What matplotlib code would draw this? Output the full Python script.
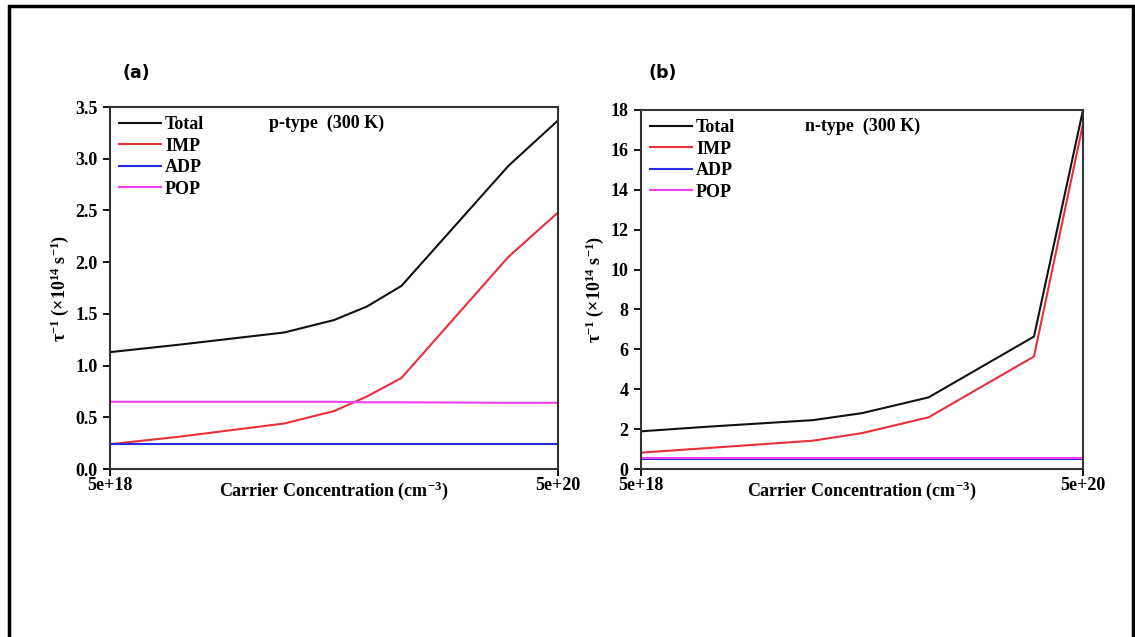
import matplotlib
matplotlib.use("Agg")
import matplotlib.pyplot as plt
from matplotlib.patches import Rectangle

# ---- data ----
conc_p = [5e18, 1e19, 3e19, 5e19, 7e19, 1e20, 3e20, 5e20]
total_p = [1.13, 1.20, 1.32, 1.44, 1.57, 1.77, 2.93, 3.37]
imp_p = [0.24, 0.31, 0.44, 0.56, 0.70, 0.88, 2.05, 2.48]
adp_p = [0.24, 0.24, 0.24, 0.24, 0.24, 0.24, 0.24, 0.24]
pop_p = [0.65, 0.65, 0.65, 0.65, 0.645, 0.645, 0.64, 0.64]

conc_n = [5e18, 1e19, 3e19, 5e19, 1e20, 3e20, 5e20]
total_n = [1.89, 2.12, 2.45, 2.80, 3.59, 6.64, 18.0]
imp_n = [0.82, 1.05, 1.42, 1.80, 2.59, 5.64, 17.3]
adp_n = [0.50, 0.50, 0.50, 0.50, 0.50, 0.50, 0.50]
pop_n = [0.53, 0.53, 0.53, 0.53, 0.53, 0.53, 0.53]

series_names = ["Total", "IMP", "ADP", "POP"]
series_colors = ["#111111", "#e8303a", "#2a2ae0", "#f040f0"]
xtick_vals = [5e18, 5e20]
xtick_labels = ["5e+18", "5e+20"]
yticks_p = [0.0, 0.5, 1.0, 1.5, 2.0, 2.5, 3.0, 3.5]
yticks_n = [0, 2, 4, 6, 8, 10, 12, 14, 16, 18]

plt.rcParams['font.family'] = ['Liberation Serif', 'DejaVu Serif']
plt.rcParams['font.weight'] = 'bold'
plt.rcParams['mathtext.fontset'] = 'custom'
plt.rcParams['mathtext.rm'] = 'Liberation Serif:bold'
plt.rcParams['mathtext.bf'] = 'Liberation Serif:bold'
plt.rcParams['mathtext.it'] = 'Liberation Serif:bold'
plt.rcParams['mathtext.default'] = 'bf'

W, H = 1135, 637
fig = plt.figure(figsize=(W / 100, H / 100), dpi=100)


def px_axes(x0, y0, x1, y1):
    return fig.add_axes([x0 / W, 1 - y1 / H, (x1 - x0) / W, (y1 - y0) / H])


ylab = r'$\tau^{-1}$ (×10$^{14}$ s$^{-1}$)'
xlab = r'Carrier Concentration (cm$^{-3}$)'
FS = 13


def make_panel(ax, x, ys, yticks, ylim, fmt, title_text, title_x, letter, letter_x):
    for yv, name, c in zip(ys, series_names, series_colors):
        ax.plot(x, yv, color=c, lw=1.5, label=name)
    ax.set_xscale('log')
    ax.set_xlim(5e18, 5e20)
    ax.set_ylim(*ylim)
    ax.set_xticks(xtick_vals)
    ax.set_xticklabels(xtick_labels)
    ax.xaxis.set_minor_locator(matplotlib.ticker.NullLocator())
    ax.set_yticks(yticks)
    ax.set_yticklabels([fmt.format(v) for v in yticks])
    ax.tick_params(axis='both', direction='out', length=5, width=1.3,
                   labelsize=FS, pad=1)
    ax.tick_params(axis='y', pad=4)
    for lbl in ax.get_xticklabels() + ax.get_yticklabels():
        lbl.set_fontweight('bold')
    for s in ax.spines.values():
        s.set_linewidth(1.5)
        s.set_color('#333333')
    ax.set_ylabel(ylab, fontsize=FS, fontweight='bold', labelpad=3)
    ax.set_xlabel(xlab, fontsize=FS, fontweight='bold', labelpad=-11)
    ax.legend(loc='upper left', frameon=False,
              handlelength=2.3, handletextpad=0.25, labelspacing=0.25,
              borderaxespad=0.2, borderpad=0.3, prop={'weight': 'bold', 'size': FS})
    ax.text(title_x, 0.955, title_text, transform=ax.transAxes,
            fontsize=FS, fontweight='bold', ha='left', va='center')
    fig.text(letter_x / W, 1 - 73 / H, letter, fontsize=12.5, fontweight='bold',
             family='DejaVu Sans', ha='left', va='center')


ax1 = px_axes(110, 107, 558, 469)
make_panel(ax1, conc_p, [total_p, imp_p, adp_p, pop_p], yticks_p, (0, 3.5),
           "{:.1f}", "p-type  (300 K)", 0.355, "(a)", 122)

ax2 = px_axes(641, 110, 1083, 469)
make_panel(ax2, conc_n, [total_n, imp_n, adp_n, pop_n], yticks_n, (0, 18),
           "{:d}", "n-type  (300 K)", 0.37, "(b)", 648)

# outer frame
fig.patches.append(Rectangle((9 / W, -0.05), (1133 - 9) / W, 1.05 - 6 / H,
                             transform=fig.transFigure, fill=False,
                             edgecolor='black', lw=2.5))

fig.savefig("out.png", dpi=100)
